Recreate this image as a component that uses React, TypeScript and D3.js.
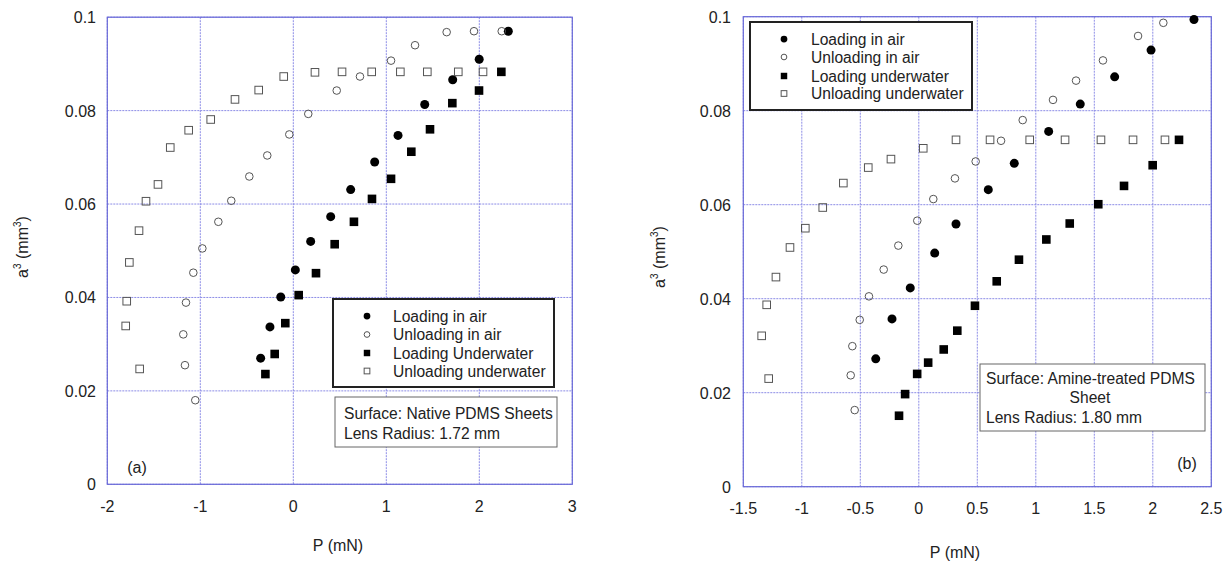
import React from "react";
import * as d3 from "d3";

// ---------- Panel (a) data ----------
const aLoadAirP = [2.312, 1.999, 1.714, 1.413, 1.126, 0.875, 0.617, 0.402, 0.187, 0.022, -0.135, -0.251, -0.351];
const aLoadAirV = [0.097, 0.091, 0.0866, 0.0813, 0.0747, 0.069, 0.0631, 0.0573, 0.052, 0.0459, 0.0401, 0.0337, 0.027];
const aUnloadAirP = [2.241, 1.943, 1.649, 1.309, 1.051, 0.717, 0.467, 0.161, -0.043, -0.28, -0.473, -0.667, -0.806, -0.978, -1.075, -1.154, -1.183, -1.165, -1.054];
const aUnloadAirV = [0.097, 0.097, 0.0968, 0.094, 0.0907, 0.0873, 0.0843, 0.0793, 0.0749, 0.0704, 0.0659, 0.0607, 0.0562, 0.0505, 0.0453, 0.0389, 0.0321, 0.0255, 0.018];
const aLoadWaterP = [2.237, 1.997, 1.71, 1.47, 1.269, 1.051, 0.846, 0.652, 0.445, 0.244, 0.058, -0.086, -0.2, -0.3];
const aLoadWaterV = [0.0883, 0.0843, 0.0816, 0.076, 0.0712, 0.0654, 0.0611, 0.0562, 0.0514, 0.0452, 0.0405, 0.0345, 0.0279, 0.0236];
const aUnloadWaterP = [2.04, 1.774, 1.441, 1.151, 0.843, 0.524, 0.233, -0.103, -0.372, -0.627, -0.888, -1.125, -1.323, -1.455, -1.584, -1.659, -1.763, -1.791, -1.802, -1.652];
const aUnloadWaterV = [0.0883, 0.0883, 0.0883, 0.0883, 0.0883, 0.0883, 0.0882, 0.0873, 0.0844, 0.0824, 0.0781, 0.0758, 0.0721, 0.0642, 0.0606, 0.0543, 0.0475, 0.0392, 0.0339, 0.0247];

// ---------- Panel (b) data ----------
const bLoadAirP = [2.352, 1.985, 1.674, 1.38, 1.11, 0.816, 0.594, 0.318, 0.136, -0.073, -0.229, -0.368];
const bLoadAirV = [0.0994, 0.0929, 0.0872, 0.0814, 0.0756, 0.0688, 0.0632, 0.0559, 0.0497, 0.0423, 0.0357, 0.0272];
const bUnloadAirP = [2.09, 1.874, 1.574, 1.344, 1.147, 0.888, 0.703, 0.486, 0.309, 0.124, -0.013, -0.175, -0.3, -0.426, -0.505, -0.568, -0.582, -0.548];
const bUnloadAirV = [0.0987, 0.0959, 0.0907, 0.0864, 0.0823, 0.078, 0.0736, 0.0692, 0.0656, 0.0612, 0.0566, 0.0513, 0.0462, 0.0405, 0.0355, 0.0299, 0.0237, 0.0163];
const bLoadWaterP = [2.224, 1.999, 1.754, 1.534, 1.29, 1.09, 0.856, 0.666, 0.48, 0.329, 0.213, 0.08, -0.014, -0.117, -0.169];
const bLoadWaterV = [0.0738, 0.0684, 0.064, 0.0601, 0.056, 0.0526, 0.0483, 0.0437, 0.0385, 0.0332, 0.0292, 0.0264, 0.024, 0.0197, 0.0151];
const bUnloadWaterP = [2.104, 1.831, 1.557, 1.25, 0.948, 0.609, 0.318, 0.038, -0.238, -0.432, -0.645, -0.821, -0.97, -1.101, -1.221, -1.3, -1.343, -1.283];
const bUnloadWaterV = [0.0738, 0.0738, 0.0738, 0.0738, 0.0738, 0.0738, 0.0738, 0.072, 0.0697, 0.0679, 0.0646, 0.0594, 0.055, 0.0509, 0.0446, 0.0387, 0.0321, 0.023];

// ---------- ticks / labels ----------
const aXTicks = [-2, -1, 0, 1, 2, 3];
const bXTicks = [-1.5, -1, -0.5, 0, 0.5, 1, 1.5, 2, 2.5];
const yTicks = [0, 0.02, 0.04, 0.06, 0.08, 0.1];
const aLegend = ["Loading in air", "Unloading in air", "Loading Underwater", "Unloading underwater"];
const bLegend = ["Loading in air", "Unloading in air", "Loading underwater", "Unloading underwater"];

const FONT = "Arial, 'Liberation Sans', sans-serif";
const GRID = "#8c8ce6";
const AXIS = "#6a6ad8";
const TXT = "#222";

type Kind = "fc" | "oc" | "fs" | "os";

function Marker({ kind, x, y, s = 1 }: { kind: Kind; x: number; y: number; s?: number }) {
  if (kind === "fc") return <circle cx={x} cy={y} r={4.5 * s} fill="#000" />;
  if (kind === "oc") return <circle cx={x} cy={y} r={3.8 * s} fill="none" stroke="#555" strokeWidth={1} />;
  if (kind === "fs") {
    const h = 4.3 * s;
    return <rect x={x - h} y={y - h} width={2 * h} height={2 * h} fill="#000" />;
  }
  const h = 3.8 * s;
  return <rect x={x - h} y={y - h} width={2 * h} height={2 * h} fill="none" stroke="#555" strokeWidth={1} />;
}

const KINDS: Kind[] = ["fc", "oc", "fs", "os"];

function fmtX(v: number) {
  return String(v);
}
function fmtY(v: number) {
  return v === 0 ? "0" : String(+v.toFixed(2));
}

function Panel(props: {
  x0: number; x1: number; y0: number; y1: number;
  xDomain: [number, number]; xTicks: number[];
  series: { p: number[]; v: number[] }[];
  yLabelX: number; xLabelY: number;
  yTitleX: number; yTitleY: number; xTitleX: number; xTitleY: number;
  legend: string[];
  legendBox: { x: number; y: number; w: number; h: number; mx: number; tx: number; ry: number[] };
  info: React.ReactNode;
  tag: { text: string; x: number; y: number };
}) {
  const { x0, x1, y0, y1 } = props;
  const xs = d3.scaleLinear().domain(props.xDomain).range([x0, x1]);
  const ys = d3.scaleLinear().domain([0, 0.1]).range([y1, y0]);
  const lb = props.legendBox;
  return (
    <g>
      {/* grid */}
      {props.xTicks.map((t, i) => (
        <line key={"gx" + i} x1={xs(t)} x2={xs(t)} y1={y0} y2={y1} stroke={GRID} strokeWidth={1} strokeDasharray="2,1" />
      ))}
      {yTicks.map((t, i) => (
        <line key={"gy" + i} x1={x0} x2={x1} y1={ys(t)} y2={ys(t)} stroke={GRID} strokeWidth={1} strokeDasharray="2,1" />
      ))}
      <rect x={x0} y={y0} width={x1 - x0} height={y1 - y0} fill="none" stroke={AXIS} strokeWidth={1.2} />
      {/* tick labels */}
      {props.xTicks.map((t, i) => (
        <text key={"tx" + i} x={xs(t)} y={props.xLabelY} textAnchor="middle" fontSize={16} fill={TXT} fontFamily={FONT}>
          {fmtX(t)}
        </text>
      ))}
      {yTicks.map((t, i) => (
        <text key={"ty" + i} x={props.yLabelX} y={ys(t) + 6} textAnchor="end" fontSize={16} fill={TXT} fontFamily={FONT}>
          {fmtY(t)}
        </text>
      ))}
      {/* axis titles */}
      <text x={props.xTitleX} y={props.xTitleY} textAnchor="middle" fontSize={16} fill={TXT} fontFamily={FONT}>
        P (mN)
      </text>
      <text
        transform={`translate(${props.yTitleX},${props.yTitleY}) rotate(-90)`}
        textAnchor="middle" fontSize={16} fill={TXT} fontFamily={FONT}
      >
        a<tspan fontSize={10} dy={-7}>3</tspan>
        <tspan dy={7}> (mm</tspan>
        <tspan fontSize={10} dy={-7}>3</tspan>
        <tspan dy={7}>)</tspan>
      </text>
      {/* data */}
      {props.series.map((s, si) =>
        s.p.map((p, i) => <Marker key={si + "-" + i} kind={KINDS[si]} x={xs(p)} y={ys(s.v[i])} />)
      )}
      {/* legend */}
      <rect x={lb.x} y={lb.y} width={lb.w} height={lb.h} fill="#fff" stroke="#222" strokeWidth={2} />
      {props.legend.map((l, i) => (
        <g key={"lg" + i}>
          <Marker kind={KINDS[i]} x={lb.mx} y={lb.ry[i]} s={0.75} />
          <text x={lb.tx} y={lb.ry[i] + 5.5} fontSize={15.6} fill={TXT} fontFamily={FONT}>
            {l}
          </text>
        </g>
      ))}
      {props.info}
      <text x={props.tag.x} y={props.tag.y} textAnchor="middle" fontSize={16} fill={TXT} fontFamily={FONT}>
        {props.tag.text}
      </text>
    </g>
  );
}

export default function App() {
  const aSeries = [
    { p: aLoadAirP, v: aLoadAirV },
    { p: aUnloadAirP, v: aUnloadAirV },
    { p: aLoadWaterP, v: aLoadWaterV },
    { p: aUnloadWaterP, v: aUnloadWaterV },
  ];
  const bSeries = [
    { p: bLoadAirP, v: bLoadAirV },
    { p: bUnloadAirP, v: bUnloadAirV },
    { p: bLoadWaterP, v: bLoadWaterV },
    { p: bUnloadWaterP, v: bUnloadWaterV },
  ];
  const IF = 15.6;
  return (
    <svg width={1231} height={561} style={{ position: "absolute", left: 0, top: 0, background: "#fff" }}>
      <rect x={0} y={0} width={1231} height={561} fill="#fff" />
      <Panel
        x0={107.3} x1={572.3} y0={17.2} y1={484.3}
        xDomain={[-2, 3]} xTicks={aXTicks} series={aSeries}
        yLabelX={96} xLabelY={512}
        yTitleX={28} yTitleY={247} xTitleX={338} xTitleY={551}
        legend={aLegend}
        legendBox={{ x: 333, y: 299, w: 221, h: 88, mx: 367, tx: 393, ry: [316, 334.5, 353, 371] }}
        info={
          <g>
            <rect x={335} y={397} width={222} height={50} fill="#fff" stroke="#666" strokeWidth={1} />
            <text x={344} y={418.5} fontSize={IF} fill={TXT} fontFamily={FONT}>Surface: Native PDMS Sheets</text>
            <text x={344} y={438.5} fontSize={IF} fill={TXT} fontFamily={FONT}>Lens Radius: 1.72 mm</text>
          </g>
        }
        tag={{ text: "(a)", x: 137, y: 473 }}
      />
      <Panel
        x0={743.3} x1={1211.3} y0={16.7} y1={486.7}
        xDomain={[-1.5, 2.5]} xTicks={bXTicks} series={bSeries}
        yLabelX={731} xLabelY={514}
        yTitleX={665} yTitleY={257} xTitleX={955} xTitleY={558}
        legend={bLegend}
        legendBox={{ x: 750, y: 22, w: 222, h: 88, mx: 784, tx: 811, ry: [39, 57, 76, 93.5] }}
        info={
          <g>
            <rect x={980} y={364} width={225} height={67} fill="#fff" stroke="#666" strokeWidth={1} />
            <text x={986} y={383.5} fontSize={IF} fill={TXT} fontFamily={FONT}>Surface: Amine-treated PDMS</text>
            <text x={1090} y={402.5} textAnchor="middle" fontSize={IF} fill={TXT} fontFamily={FONT}>Sheet</text>
            <text x={986} y={422.5} fontSize={IF} fill={TXT} fontFamily={FONT}>Lens Radius: 1.80 mm</text>
          </g>
        }
        tag={{ text: "(b)", x: 1187, y: 469 }}
      />
    </svg>
  );
}
